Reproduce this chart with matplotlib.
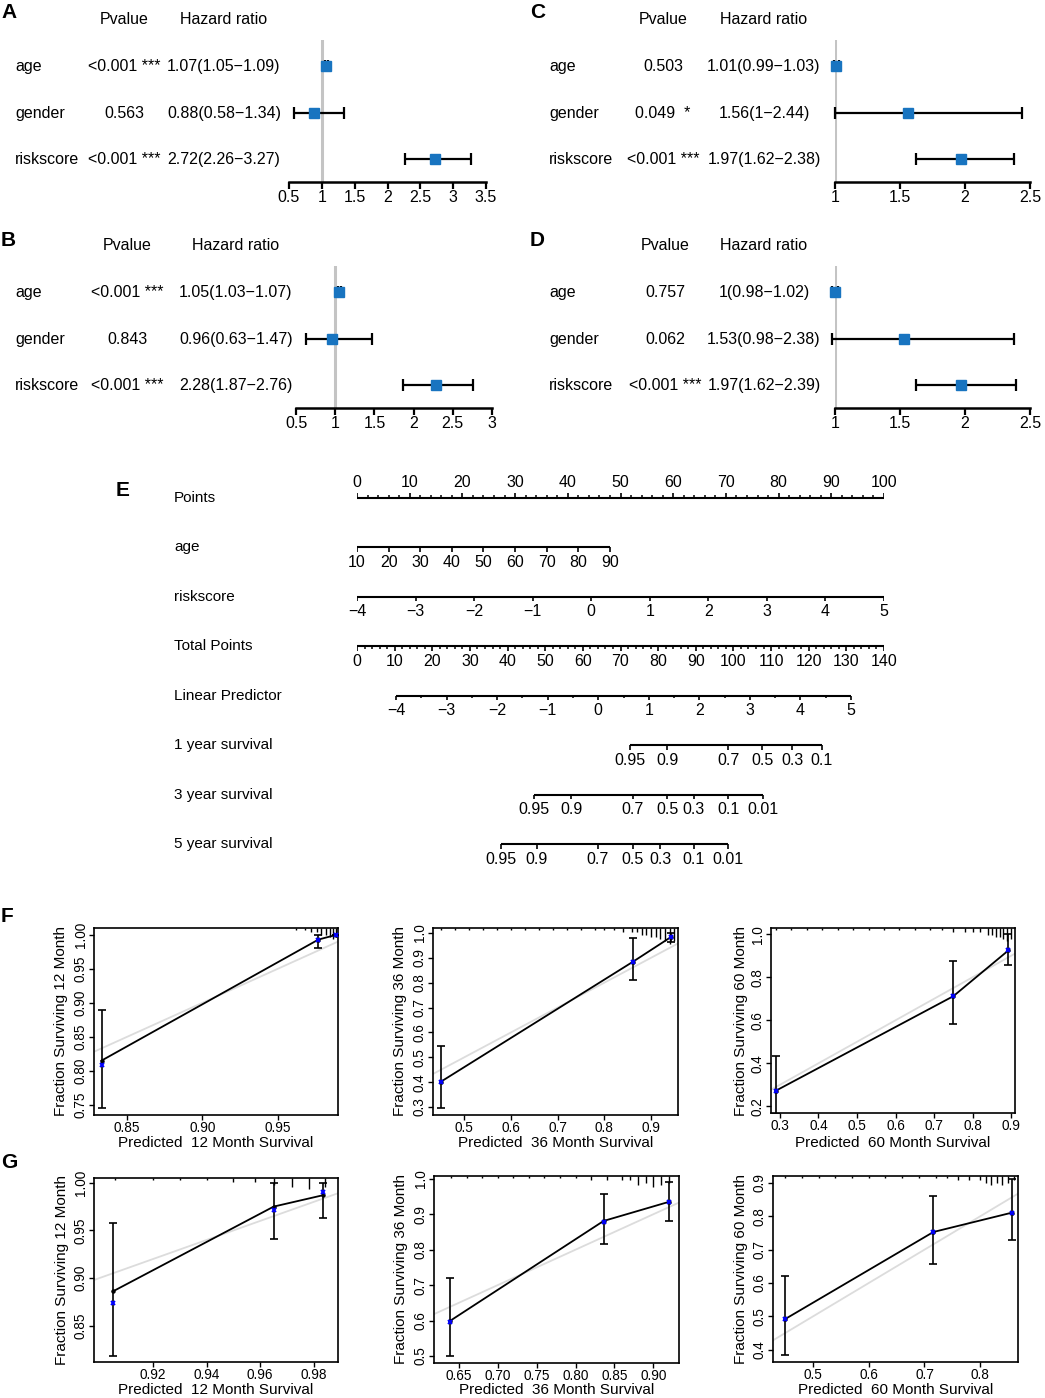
import matplotlib
matplotlib.use('Agg')
import matplotlib.pyplot as plt
import matplotlib.transforms as mtransforms
import numpy as np

plt.rcParams['font.family'] = ['Liberation Sans', 'DejaVu Sans']

W, H = 1045, 1398
BLUE = '#1874C0'

# ---------------- forest plot data (A-D) ----------------
variables = ['age', 'gender', 'riskscore']

a_p = ['<0.001 ***', '0.563', '<0.001 ***']
a_hr = [1.07, 0.88, 2.72]
a_lo = [1.05, 0.58, 2.26]
a_hi = [1.09, 1.34, 3.27]
a_ticks = [0.5, 1, 1.5, 2, 2.5, 3, 3.5]

b_p = ['<0.001 ***', '0.843', '<0.001 ***']
b_hr = [1.05, 0.96, 2.28]
b_lo = [1.03, 0.63, 1.87]
b_hi = [1.07, 1.47, 2.76]
b_ticks = [0.5, 1, 1.5, 2, 2.5, 3]

c_p = ['0.503', '0.049  *', '<0.001 ***']
c_hr = [1.01, 1.56, 1.97]
c_lo = [0.99, 1.0, 1.62]
c_hi = [1.03, 2.44, 2.38]
c_ticks = [1, 1.5, 2, 2.5]

d_p = ['0.757', '0.062', '<0.001 ***']
d_hr = [1.0, 1.53, 1.97]
d_lo = [0.98, 0.98, 1.62]
d_hi = [1.02, 2.38, 2.39]
d_ticks = [1, 1.5, 2, 2.5]

# ---------------- nomogram data (E) ----------------
points_ticks = list(range(0, 101, 10))
age_ticks = [10, 20, 30, 40, 50, 60, 70, 80, 90]
age_points_end = 48.0          # points given for age 90 (age 10 -> 0)
risk_ticks = [-4, -3, -2, -1, 0, 1, 2, 3, 4, 5]
total_ticks = list(range(0, 141, 10))
lp_ticks = [-4, -3, -2, -1, 0, 1, 2, 3, 4, 5]
lp_total_range = (10.4, 131.2)  # total points at LP -4 and LP 5
surv1_labels = ['0.95', '0.9', '0.7', '0.5', '0.3', '0.1']
surv1_total = [72.5, 82.4, 98.6, 107.6, 115.6, 123.5]
surv3_labels = ['0.95', '0.9', '0.7', '0.5', '0.3', '0.1', '0.01']
surv3_total = [47.0, 56.9, 73.3, 82.4, 89.5, 98.6, 107.9]
surv5_labels = ['0.95', '0.9', '0.7', '0.5', '0.3', '0.1', '0.01']
surv5_total = [38.3, 47.8, 64.0, 73.3, 80.5, 89.5, 98.6]

# ---------------- calibration data (F, G) ----------------
f1_pred = [0.833, 0.977, 0.989]
f1_obs = [0.815, 0.993, 1.0]
f1_corr = [0.808, 0.992, 1.0]
f1_lo = [0.745, 0.980, 1.0]
f1_hi = [0.890, 1.0, 1.0]
f1_rug = [0.962, 0.968, 0.972, 0.976, 0.979, 0.982, 0.985, 0.987, 0.989]
f1_cnt = [1, 1, 2, 2, 3, 3, 4, 5, 4]

f2_pred = [0.45, 0.862, 0.944]
f2_obs = [0.402, 0.885, 0.985]
f2_corr = [0.402, 0.882, 0.985]
f2_lo = [0.295, 0.810, 0.963]
f2_hi = [0.547, 0.980, 1.0]
f2_rug = [0.45, 0.48, 0.51, 0.54, 0.57, 0.6, 0.63, 0.66, 0.69, 0.72, 0.75, 0.78,
          0.8, 0.82, 0.84, 0.86, 0.87, 0.88, 0.89, 0.9, 0.91, 0.92, 0.93, 0.94, 0.95]
f2_cnt = [1, 1, 1, 1, 1, 1, 1, 1, 1, 1, 1, 1, 1, 1, 2, 2, 2, 3, 3, 4, 4, 5, 6, 7, 6]

f3_pred = [0.289, 0.75, 0.893]
f3_obs = [0.272, 0.712, 0.925]
f3_corr = [0.272, 0.712, 0.925]
f3_lo = [0.165, 0.583, 0.855]
f3_hi = [0.432, 0.875, 1.0]
f3_rug = [0.29, 0.33, 0.37, 0.41, 0.45, 0.49, 0.53, 0.57, 0.61, 0.65, 0.69, 0.72,
          0.75, 0.78, 0.8, 0.82, 0.84, 0.85, 0.86, 0.87, 0.88, 0.89, 0.9]
f3_cnt = [1, 1, 1, 1, 1, 1, 1, 1, 1, 1, 1, 1, 2, 2, 2, 2, 3, 3, 4, 4, 5, 6, 5]

g1_pred = [0.905, 0.965, 0.9835]
g1_obs = [0.886, 0.975, 0.987]
g1_corr = [0.874, 0.971, 0.990]
g1_lo = [0.818, 0.941, 0.963]
g1_hi = [0.958, 1.0, 1.0]
g1_rug = [0.906, 0.92, 0.93, 0.94, 0.95, 0.958, 0.965, 0.972, 0.978, 0.984]
g1_cnt = [1, 1, 1, 1, 2, 2, 3, 4, 5, 4]

g2_pred = [0.638, 0.836, 0.92]
g2_obs = [0.598, 0.881, 0.935]
g2_corr = [0.597, 0.879, 0.934]
g2_lo = [0.50, 0.817, 0.880]
g2_hi = [0.72, 0.958, 0.992]
g2_rug = [0.64, 0.66, 0.68, 0.70, 0.72, 0.74, 0.76, 0.78, 0.80, 0.82, 0.84,
          0.86, 0.87, 0.88, 0.89, 0.90, 0.91, 0.92]
g2_cnt = [1, 1, 1, 1, 1, 1, 1, 1, 1, 2, 2, 2, 2, 4, 3, 5, 4, 3]

g3_pred = [0.45, 0.716, 0.857]
g3_obs = [0.492, 0.753, 0.811]
g3_corr = [0.492, 0.753, 0.811]
g3_lo = [0.385, 0.658, 0.728]
g3_hi = [0.62, 0.86, 0.912]
g3_rug = [0.45, 0.48, 0.51, 0.54, 0.57, 0.6, 0.63, 0.66, 0.69, 0.72, 0.74, 0.76,
          0.78, 0.8, 0.81, 0.82, 0.83, 0.84, 0.85, 0.86]
g3_cnt = [1, 1, 1, 1, 1, 1, 1, 1, 1, 1, 1, 2, 2, 2, 3, 4, 3, 4, 3, 2]

fig = plt.figure(figsize=(W / 100, H / 100), dpi=100)


def px_axes(l, t, r, b):
    return fig.add_axes([l / W, 1 - b / H, (r - l) / W, (b - t) / H])


def letter(x, y, s):
    fig.text(x / W, 1 - y / H, s, fontsize=15, fontweight='bold', ha='left', va='center')


def forest(x0, x1, ticks, row0, axis_y, name_x, p_x, hr_x, pvals, hr, lo, hi):
    step = 46.5
    top = row0 - 26
    ax = px_axes(x0, top, x1, axis_y)
    ax.set_xlim(ticks[0], ticks[-1])
    ax.set_ylim((axis_y - row0) / step, -26 / step)
    ax.axvline(1, color='#c4c4c4', lw=2.2, zorder=1)
    hr = np.array(hr)
    lo = np.array(lo)
    hi = np.array(hi)
    ys = np.arange(len(hr))
    ax.errorbar(hr, ys, xerr=[hr - lo, hi - hr], fmt='s', color='black',
                ecolor='black', elinewidth=1.6, capsize=4.3, capthick=1.6,
                markerfacecolor=BLUE, markeredgecolor=BLUE, markersize=6.5,
                clip_on=False, zorder=3)
    for s in ['top', 'left', 'right']:
        ax.spines[s].set_visible(False)
    ax.spines['bottom'].set_linewidth(1.8)
    ax.spines['bottom'].set_bounds(ticks[0], ticks[-1])
    ax.set_yticks([])
    ax.set_xticks(ticks)
    ax.set_xticklabels([format(t, 'g') for t in ticks])
    ax.tick_params(axis='x', direction='out', length=5, width=1.6, labelsize=11.5, pad=1)
    tr = mtransforms.blended_transform_factory(fig.transFigure, ax.transData)
    kw = dict(transform=tr, fontsize=11.5, va='center', clip_on=False)
    ax.text(p_x / W, -1.0, 'Pvalue', ha='center', **kw)
    ax.text(hr_x / W, -1.0, 'Hazard ratio', ha='center', **kw)
    for i, name in enumerate(variables):
        ax.text(name_x / W, i + 0.02, name, ha='left', **kw)
        ax.text(p_x / W, i + 0.02, pvals[i], ha='center', **kw)
        txt = '{}({}\u2212{})'.format(format(hr[i], 'g'), format(lo[i], 'g'), format(hi[i], 'g'))
        ax.text(hr_x / W, i + 0.02, txt, ha='center', **kw)
    return ax


forest(289, 486, a_ticks, 66, 182, 15, 124, 224, a_p, a_hr, a_lo, a_hi)
forest(296, 492, b_ticks, 292, 408, 15, 127, 236, b_p, b_hr, b_lo, b_hi)
forest(835, 1030, c_ticks, 66, 182, 549, 663, 764, c_p, c_hr, c_lo, c_hi)
forest(835, 1030, d_ticks, 292, 408, 549, 665, 764, d_p, d_hr, d_lo, d_hi)
letter(1, 13, 'A')
letter(1, 240, 'B')
letter(530, 13, 'C')
letter(530, 240, 'D')

# ---------------- nomogram ----------------
row_step = 49.5
first_row = 497.7
axn = px_axes(357, 470, 884, 870)
axn.set_xlim(0, 100)
axn.set_ylim((870 - first_row) / row_step, (470 - first_row) / row_step)
axn.axis('off')
tick = 4.5 / row_step
small = 2.3 / row_step
lab_off = 15 / row_step
nfs = 11.5
lw = 1.5
names = ['Points', 'age', 'riskscore', 'Total Points', 'Linear Predictor',
         '1 year survival', '3 year survival', '5 year survival']
trn = mtransforms.blended_transform_factory(fig.transFigure, axn.transData)
for i, nm in enumerate(names):
    axn.text(174 / W, i, nm, transform=trn, fontsize=11, ha='left', va='center')


def scale_row(row, pos, labels, up=False, minor=None):
    pos = list(pos)
    allp = pos + (minor or [])
    axn.plot([min(allp), max(allp)], [row, row], color='black', lw=lw,
             solid_capstyle='butt')
    d = -1 if up else 1
    axn.vlines(pos, row, row + d * tick, color='black', lw=1.2)
    if minor:
        axn.vlines(minor, row, row + d * small, color='black', lw=1.1)
    for p, s in zip(pos, labels):
        axn.text(p, row + d * lab_off, s, fontsize=nfs, ha='center', va='center')


scale_row(0, points_ticks, [str(v) for v in points_ticks], up=True,
          minor=[v for v in np.arange(0, 101, 2) if v % 10])
age_pos = [(a - age_ticks[0]) / (age_ticks[-1] - age_ticks[0]) * age_points_end for a in age_ticks]
scale_row(1, age_pos, [str(a) for a in age_ticks])
risk_pos = [(r - risk_ticks[0]) / (risk_ticks[-1] - risk_ticks[0]) * 100 for r in risk_ticks]
scale_row(2, risk_pos, ['\u2212' + str(-r) if r < 0 else str(r) for r in risk_ticks])
tot_to_pts = 100 / 140
scale_row(3, [t * tot_to_pts for t in total_ticks], [str(t) for t in total_ticks],
          minor=[t * tot_to_pts for t in range(0, 141, 2) if t % 10])


def lp_pos(v):
    lo_t, hi_t = lp_total_range
    return (lo_t + (v - lp_ticks[0]) / (lp_ticks[-1] - lp_ticks[0]) * (hi_t - lo_t)) * tot_to_pts


scale_row(4, [lp_pos(v) for v in lp_ticks], ['\u2212' + str(-v) if v < 0 else str(v) for v in lp_ticks],
          minor=[lp_pos(v + 0.5) for v in lp_ticks[:-1]])
scale_row(5, [t * tot_to_pts for t in surv1_total], surv1_labels)
scale_row(6, [t * tot_to_pts for t in surv3_total], surv3_labels)
scale_row(7, [t * tot_to_pts for t in surv5_total], surv5_labels)
letter(116, 490, 'E')

# ---------------- calibration curves ----------------


def calib(box, xlim, ylim, xt, yt, xfmt, yfmt, pred, obs, corr, lo, hi, rug, cnt,
          month, ylab_x, xlab_y):
    l, t, r, b = box
    ax = px_axes(l, t, r, b)
    ax.set_xlim(*xlim)
    ax.set_ylim(*ylim)
    ax.axline((0, 0), (1, 1), color='#dcdcdc', lw=1.3, zorder=1)
    obs = np.array(obs)
    ax.errorbar(pred, obs, yerr=[obs - np.array(lo), np.array(hi) - obs], fmt='none',
                ecolor='black', elinewidth=1.2, capsize=2.8, capthick=1.2, zorder=2)
    ax.plot(pred, obs, '-o', color='black', lw=1.3, ms=2.2, zorder=3)
    ax.plot(pred, corr, 'x', color='blue', ms=3.5, mew=1.4, zorder=4)
    ax.vlines(rug, 1 - np.array(cnt) * 0.012, 1, transform=ax.get_xaxis_transform(),
              color='black', lw=1.0)
    ax.set_xticks(xt)
    ax.set_xticklabels([xfmt % v for v in xt])
    ax.set_yticks(yt)
    ax.set_yticklabels([yfmt % v for v in yt], rotation=90, va='center')
    ax.tick_params(direction='out', length=3.5, width=1, labelsize=9.8, pad=1)
    for s in ax.spines.values():
        s.set_linewidth(1.2)
    fig.text(ylab_x / W, 1 - (t + b) / 2 / H, 'Fraction Surviving %d Month' % month,
             rotation=90, ha='center', va='center', fontsize=11)
    fig.text((l + r) / 2 / W, 1 - xlab_y / H, 'Predicted  %d Month Survival' % month,
             ha='center', va='center', fontsize=11)


calib((94, 928, 338, 1115), (0.828, 0.99), (0.735, 1.010),
      [0.85, 0.90, 0.95], [0.75, 0.80, 0.85, 0.90, 0.95, 1.00], '%.2f', '%.2f',
      f1_pred, f1_obs, f1_corr, f1_lo, f1_hi, f1_rug, f1_cnt, 12, 61, 1143)
calib((433, 928, 678, 1115), (0.433, 0.958), (0.268, 1.02),
      [0.5, 0.6, 0.7, 0.8, 0.9], [0.3, 0.4, 0.5, 0.6, 0.7, 0.8, 0.9, 1.0], '%.1f', '%.1f',
      f2_pred, f2_obs, f2_corr, f2_lo, f2_hi, f2_rug, f2_cnt, 36, 400, 1143)
calib((771, 928, 1015, 1113), (0.277, 0.91), (0.169, 1.029),
      [0.3, 0.4, 0.5, 0.6, 0.7, 0.8, 0.9], [0.2, 0.4, 0.6, 0.8, 1.0], '%.1f', '%.1f',
      f3_pred, f3_obs, f3_corr, f3_lo, f3_hi, f3_rug, f3_cnt, 60, 741, 1143)
calib((94, 1178, 338, 1362), (0.898, 0.989), (0.812, 1.005),
      [0.92, 0.94, 0.96, 0.98], [0.85, 0.90, 0.95, 1.00], '%.2f', '%.2f',
      g1_pred, g1_obs, g1_corr, g1_lo, g1_hi, g1_rug, g1_cnt, 12, 62, 1390)
calib((434, 1176, 679, 1363), (0.618, 0.933), (0.48, 1.008),
      [0.65, 0.70, 0.75, 0.80, 0.85, 0.90], [0.5, 0.6, 0.7, 0.8, 0.9, 1.0], '%.2f', '%.1f',
      g2_pred, g2_obs, g2_corr, g2_lo, g2_hi, g2_rug, g2_cnt, 36, 401, 1390)
calib((773, 1176, 1018, 1362), (0.428, 0.868), (0.363, 0.921),
      [0.5, 0.6, 0.7, 0.8], [0.4, 0.5, 0.6, 0.7, 0.8, 0.9], '%.1f', '%.1f',
      g3_pred, g3_obs, g3_corr, g3_lo, g3_hi, g3_rug, g3_cnt, 60, 741, 1390)
letter(1, 916, 'F')
letter(1, 1163, 'G')

fig.savefig('out.png', dpi=100)
plt.close()
